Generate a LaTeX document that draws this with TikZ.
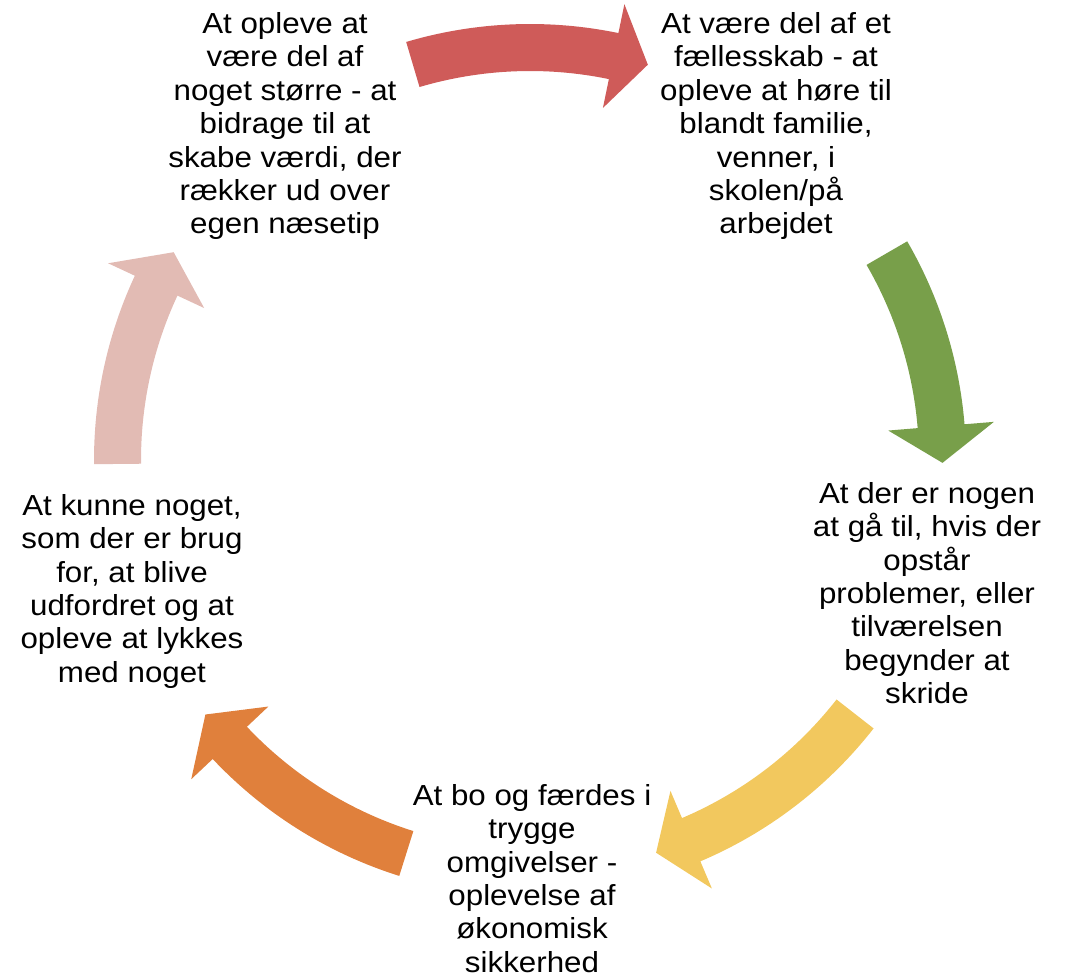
\documentclass[tikz,border=0pt]{standalone}
\usepackage{fontspec}
\setmainfont{Liberation Sans}[FakeStretch=1.08]
\usetikzlibrary{calc}
\definecolor{cred}{RGB}{207,91,89}
\definecolor{cgreen}{RGB}{120,159,74}
\definecolor{cyellow}{RGB}{242,200,94}
\definecolor{corange}{RGB}{224,128,60}
\definecolor{cpink}{RGB}{226,187,180}
\tikzset{
  label text/.style={anchor=north, inner sep=0pt, align=center,
    font=\fontsize{29}{33.4}\selectfont},
}
% #1 colour, #2 tail angle, #3 head base angle, #4 tip angle
\newcommand{\cyclearrow}[4]{%
  \fill[#1] ($(C)+(#2:436)$) arc[start angle=#2, end angle=#3, radius=436]
    -- ($(C)+(#3:465.5)$) -- ($(C)+(#4:412.5)$) -- ($(C)+(#3:359.5)$)
    -- ($(C)+(#3:389)$) arc[start angle=#3, end angle=#2, radius=389] -- cycle;}
\begin{document}
\begin{tikzpicture}[x=1pt,y=1pt]
\useasboundingbox (0,0) rectangle (1071,975);
\coordinate (C) at (530,515);
\cyclearrow{cred}{106.5}{78.3}{73.4}
\cyclearrow{cgreen}{30.1}{4.7}{-0.4}
\cyclearrow{cyellow}{-38.0}{-67.0}{-72.2}
\cyclearrow{corange}{-107.45}{-136.7}{-141.9}
\cyclearrow{cpink}{180.55}{155.0}{149.75}
\node[label text] (tl) at (285,962.7) {At opleve at\\være del af\\noget større - at\\bidrage til at\\skabe værdi, der\\rækker ud over\\egen næsetip};
\node[label text] (tr) at (776,962.7) {At være del af et\\fællesskab - at\\opleve at høre til\\blandt familie,\\venner, i\\skolen/på\\arbejdet};
\node[label text] (r) at (927,493) {At der er nogen\\at gå til, hvis der\\opstår\\problemer, eller\\tilværelsen\\begynder at\\skride};
\node[label text] (b) at (532,191) {At bo og færdes i\\trygge\\omgivelser -\\oplevelse af\\økonomisk\\sikkerhed};
\node[label text] (l) at (132,481) {At kunne noget,\\som der er brug\\for, at blive\\udfordret og at\\opleve at lykkes\\med noget};
\end{tikzpicture}
\end{document}
